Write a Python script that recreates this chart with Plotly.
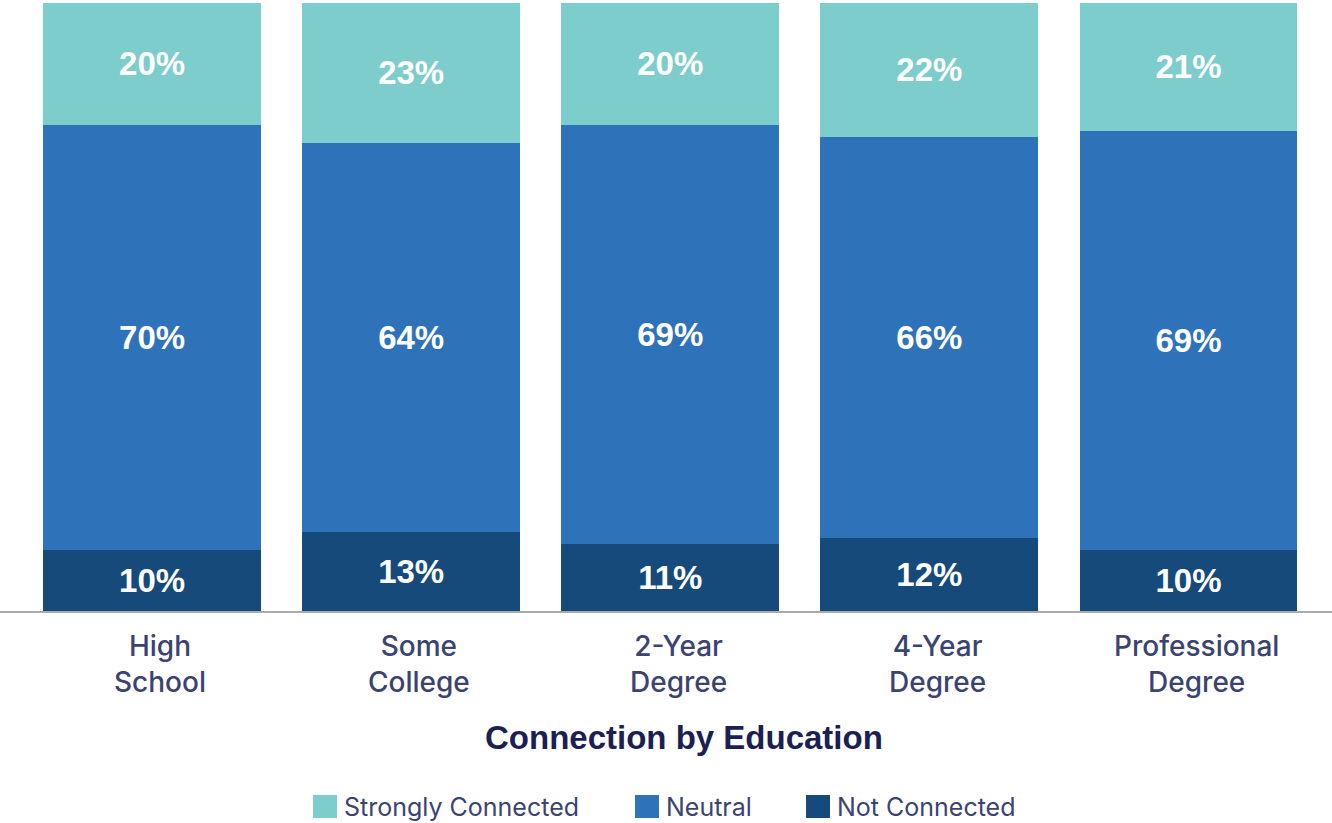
import plotly.graph_objects as go

# Survey shares (%) by education level
categories = ["High<br>School", "Some<br>College", "2-Year<br>Degree", "4-Year<br>Degree", "Professional<br>Degree"]
not_connected = [10, 13, 11, 12, 10]
neutral = [70, 64, 69, 66, 69]
strongly_connected = [20, 23, 20, 22, 21]

series_names = ["Not Connected", "Neutral", "Strongly Connected"]
series_values = [not_connected, neutral, strongly_connected]
series_colors = ["#164a7b", "#2e72b9", "#7dcdcc"]

W, H = 1332, 823
M_T, M_B = 3, 212
PLOT_H = H - M_T - M_B
BASE_Y = H - M_B  # pixel row of the baseline


def py(pix_y):
    """Pixel row -> paper y coordinate."""
    return (BASE_Y - pix_y) / PLOT_H


def px(pix_x):
    return pix_x / W


FONT = "Liberation Sans, Arial, Helvetica, sans-serif"
FONT2 = "Inter, Liberation Sans, Arial, sans-serif"
LABEL_COLOR = "#3b4371"

fig = go.Figure()
x_idx = list(range(len(categories)))
for name, vals, col in zip(series_names, series_values, series_colors):
    fig.add_trace(go.Bar(
        x=x_idx, y=vals, name=name,
        marker=dict(color=col, line=dict(width=0)),
        texttemplate="%{y}%", textposition="inside", insidetextanchor="middle",
        textangle=0,
        textfont=dict(family=FONT, size=33, color="white", weight="bold"),
        showlegend=False, hoverinfo="skip",
    ))

annotations = []
# two-line category labels under each bar
for i, cat in enumerate(categories):
    annotations.append(dict(
        x=i, xref="x", y=py(664), yref="paper", xshift=8,
        text=cat, showarrow=False, xanchor="center", yanchor="middle",
        align="center",
        font=dict(family=FONT2, size=28, color=LABEL_COLOR, weight=500),
    ))

# axis title
annotations.append(dict(
    x=0.5, xref="paper", y=py(737), yref="paper", xshift=18,
    text="<b>Connection by Education</b>", showarrow=False,
    xanchor="center", yanchor="middle",
    font=dict(family=FONT, size=33, color="#1b1f52"),
))

# legend drawn as squares + labels
shapes = []
legend_items = [("Strongly Connected", series_colors[2], 313),
                ("Neutral", series_colors[1], 635),
                ("Not Connected", series_colors[0], 806)]
for text, col, x0 in legend_items:
    shapes.append(dict(type="rect", xref="paper", yref="paper",
                       x0=px(x0), x1=px(x0 + 24), y0=py(818), y1=py(795),
                       fillcolor=col, line=dict(width=0)))
    annotations.append(dict(
        x=px(x0 + 29), xref="paper", y=py(807), yref="paper",
        text=text, showarrow=False, xanchor="left", yanchor="middle",
        font=dict(family=FONT2, size=25, color=LABEL_COLOR),
    ))

fig.update_layout(
    width=W, height=H,
    margin=dict(l=0, r=0, t=M_T, b=M_B),
    barmode="stack", bargap=0.159,
    plot_bgcolor="white", paper_bgcolor="white",
    xaxis=dict(range=[-0.587, 4.554], showticklabels=False, ticks="",
               showgrid=False, zeroline=False,
               showline=True, linecolor="#aaaaaa", linewidth=2),
    yaxis=dict(range=[0, 100], visible=False, showgrid=False),
    annotations=annotations, shapes=shapes,
    uniformtext=dict(mode="show", minsize=10),
)

fig.write_html("out.html")
